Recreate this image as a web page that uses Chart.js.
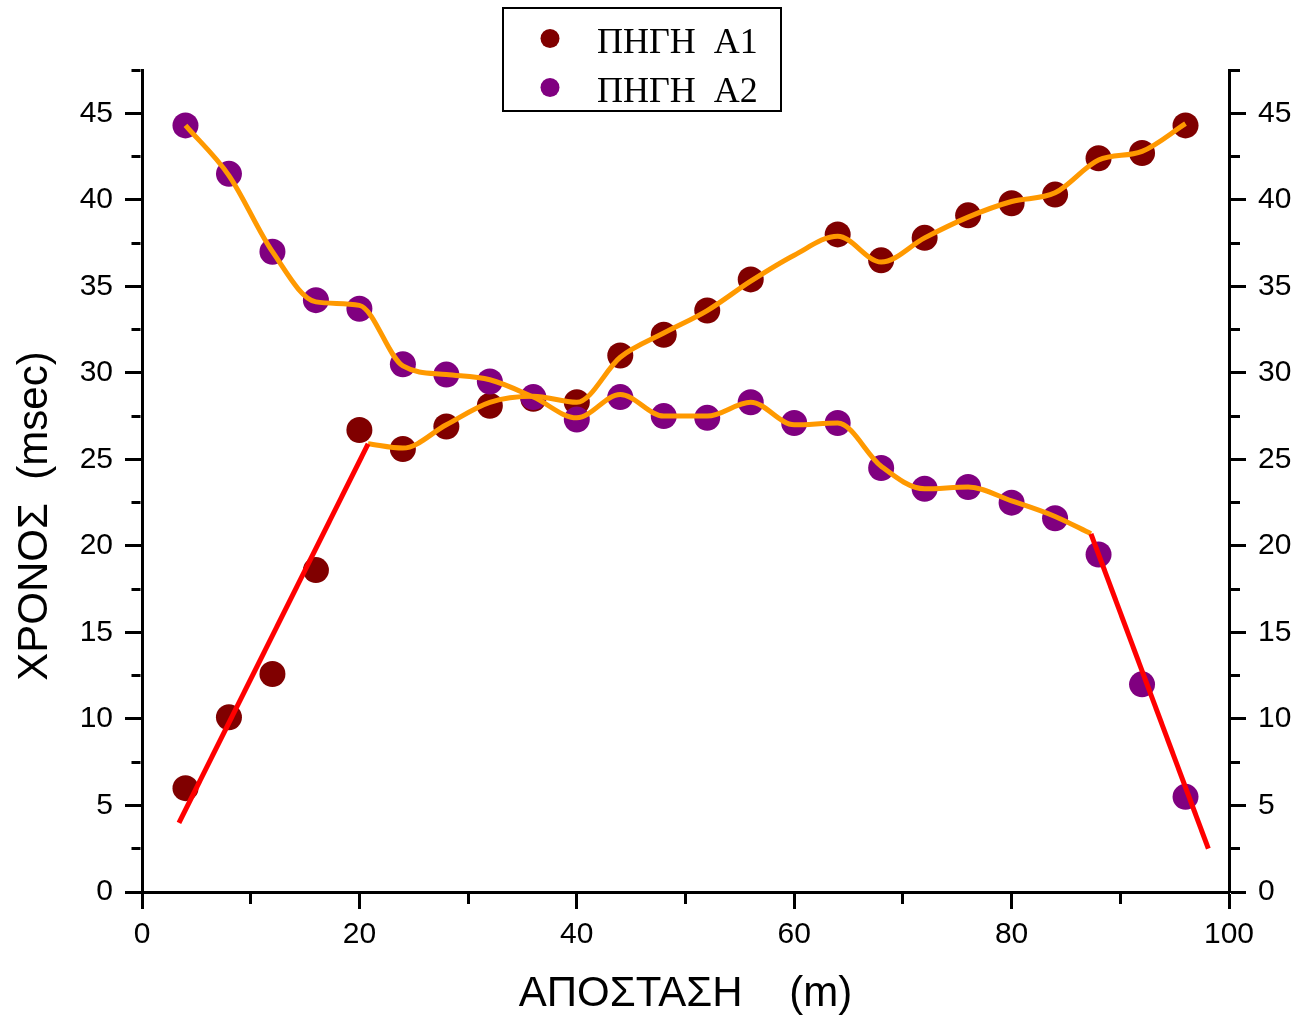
<!DOCTYPE html>
<html>
<head>
<meta charset="utf-8">
<script src="https://cdn.jsdelivr.net/npm/chart.js@4.4.1/dist/chart.umd.min.js"></script>
<style>
  html, body { margin: 0; padding: 0; background: #fff; }
  canvas { display: block; }
</style>
</head>
<body>
<canvas id="chart" width="1299" height="1020"></canvas>
<script>
// measured travel times (msec) for the two sources
const distances = [4, 8, 12, 16, 20, 24, 28, 32, 36, 40, 44, 48, 52, 56, 60, 64, 68, 72, 76, 80, 84, 88, 92, 96]
const timesA1 = [6.0, 10.1, 12.6, 18.6, 26.7, 25.6, 26.9, 28.1, 28.5, 28.3, 31.0, 32.2, 33.6, 35.4, null, 38.0, 36.5, 37.8, 39.1, 39.8, 40.3, 42.4, 42.7, 44.3]
const timesA2 = [44.3, 41.5, 37.0, 34.2, 33.7, 30.5, 29.9, 29.5, 28.6, 27.3, 28.6, 27.5, 27.4, 28.3, 27.1, 27.1, 24.5, 23.3, 23.4, 22.5, 21.6, 19.5, 12.0, 5.5]

// straight fits (direct wave)
const fitA1X = [3.4, 20.8]
const fitA1Y = [4.0, 25.9]
const fitA2X = [87.3, 98.1]
const fitA2Y = [20.7, 2.5]

// smoothed curves (refracted wave)
const smoothA1X = [20.8, 24, 28, 32, 36, 40, 44, 48, 52, 56, 60, 64, 68, 72, 76, 80, 84, 88, 92, 96]
const smoothA1Y = [25.9, 25.65, 27.0, 28.3, 28.65, 28.3, 30.9, 32.3, 33.6, 35.3, 36.8, 37.9, 36.4, 37.8, 39.0, 39.9, 40.4, 42.3, 42.8, 44.4]
const smoothA2X = [4, 8, 12, 16, 20, 24, 28, 32, 36, 40, 44, 48, 52, 56, 60, 64, 68, 72, 76, 80, 84, 87.3]
const smoothA2Y = [44.3, 41.4, 37.0, 34.1, 33.9, 30.4, 29.9, 29.6, 28.6, 27.4, 28.75, 27.5, 27.5, 28.3, 27.0, 27.1, 24.6, 23.3, 23.4, 22.6, 21.7, 20.7]

const legendLabels = ['ΠΗΓΗ  Α1', 'ΠΗΓΗ  Α2']
const colorA1 = '#800000'
const colorA2 = '#800080'

const pts = (xs, ys) => xs.map((x, i) => ({ x, y: ys[i] }))
const isMajor = (v, step) => Math.abs(v / step - Math.round(v / step)) < 1e-6

const tickFont = { family: '"Liberation Sans", Arial, sans-serif', size: 30 }
const titleFont = { family: '"Liberation Sans", Arial, sans-serif', size: 42 }

const boxLegend = {
  id: 'boxLegend',
  afterDraw (chart) {
    const { ctx } = chart
    ctx.save()
    ctx.lineWidth = 2
    ctx.strokeStyle = '#000'
    ctx.strokeRect(503, 8, 278, 103)
    ;[colorA1, colorA2].forEach((c, i) => {
      ctx.fillStyle = c
      ctx.beginPath()
      ctx.arc(550, 38.5 + i * 49, 9.5, 0, Math.PI * 2)
      ctx.fill()
      ctx.fillStyle = '#000'
      ctx.font = '36px "Liberation Serif", "Times New Roman", serif'
      ctx.textBaseline = 'alphabetic'
      ctx.fillText(legendLabels[i], 597, 53 + i * 49)
    })
    ctx.restore()
  }
}

// minor ticks are cut short with a dash pattern; the left axis draws its ticks from the outer end
const yAxis = (position, width, dash) => ({
  type: 'linear',
  position,
  min: 0,
  max: 47.5,
  border: { display: true, color: '#000', width: 3 },
  grid: {
    drawOnChartArea: false,
    tickLength: 17,
    tickWidth: 3,
    tickColor: '#000',
    tickBorderDash: ctx => (ctx.tick && !isMajor(ctx.tick.value, 5) ? dash : [])
  },
  ticks: {
    stepSize: 2.5,
    autoSkip: false,
    color: '#000',
    font: tickFont,
    padding: 12,
    callback: v => (isMajor(v, 5) ? v : '')
  },
  afterFit: s => { s.width = width }
})

const left = yAxis('left', 142, [0, 6.5, 9, 100])
left.title = {
  display: true,
  text: 'ΧΡΟΝΟΣ  (msec)      ',
  color: '#000',
  font: titleFont,
  padding: { top: 10, bottom: 0 }
}
const right = yAxis('right', 70, [9, 100])

new Chart(document.getElementById('chart'), {
  type: 'scatter',
  data: {
    datasets: [
      { data: pts(fitA1X, fitA1Y), showLine: true, borderColor: '#FF0000', borderWidth: 5, pointRadius: 0 },
      { data: pts(fitA2X, fitA2Y), showLine: true, borderColor: '#FF0000', borderWidth: 5, pointRadius: 0 },
      { data: pts(smoothA1X, smoothA1Y), showLine: true, borderColor: '#FF9900', borderWidth: 5, pointRadius: 0, cubicInterpolationMode: 'monotone' },
      { data: pts(smoothA2X, smoothA2Y), showLine: true, borderColor: '#FF9900', borderWidth: 5, pointRadius: 0, cubicInterpolationMode: 'monotone' },
      { label: legendLabels[1], data: pts(distances, timesA2), backgroundColor: colorA2, pointRadius: 13, pointBorderWidth: 0 },
      { label: legendLabels[0], data: pts(distances, timesA1), backgroundColor: colorA1, pointRadius: 13, pointBorderWidth: 0 }
    ]
  },
  options: {
    responsive: false,
    animation: false,
    layout: { padding: { top: 70, left: 0, right: 0, bottom: 0 } },
    plugins: { legend: { display: false }, tooltip: { enabled: false } },
    scales: {
      x: {
        type: 'linear',
        position: 'bottom',
        min: 0,
        max: 100,
        border: { display: true, color: '#000', width: 3 },
        grid: {
          drawOnChartArea: false,
          tickLength: 17,
          tickWidth: 3,
          tickColor: '#000',
          tickBorderDash: ctx => (ctx.tick && !isMajor(ctx.tick.value, 20) ? [10, 100] : [])
        },
        ticks: {
          stepSize: 10,
          autoSkip: false,
          maxRotation: 0,
          color: '#000',
          font: tickFont,
          padding: 8,
          callback: v => (isMajor(v, 20) ? v : '')
        },
        title: {
          display: true,
          text: 'ΑΠΟΣΤΑΣΗ    (m)',
          color: '#000',
          font: titleFont,
          padding: { top: 0, bottom: 0 }
        },
        afterFit: s => { s.height = 128 }
      },
      y: left,
      y2: right
    }
  },
  plugins: [boxLegend]
})
</script>
</body>
</html>
